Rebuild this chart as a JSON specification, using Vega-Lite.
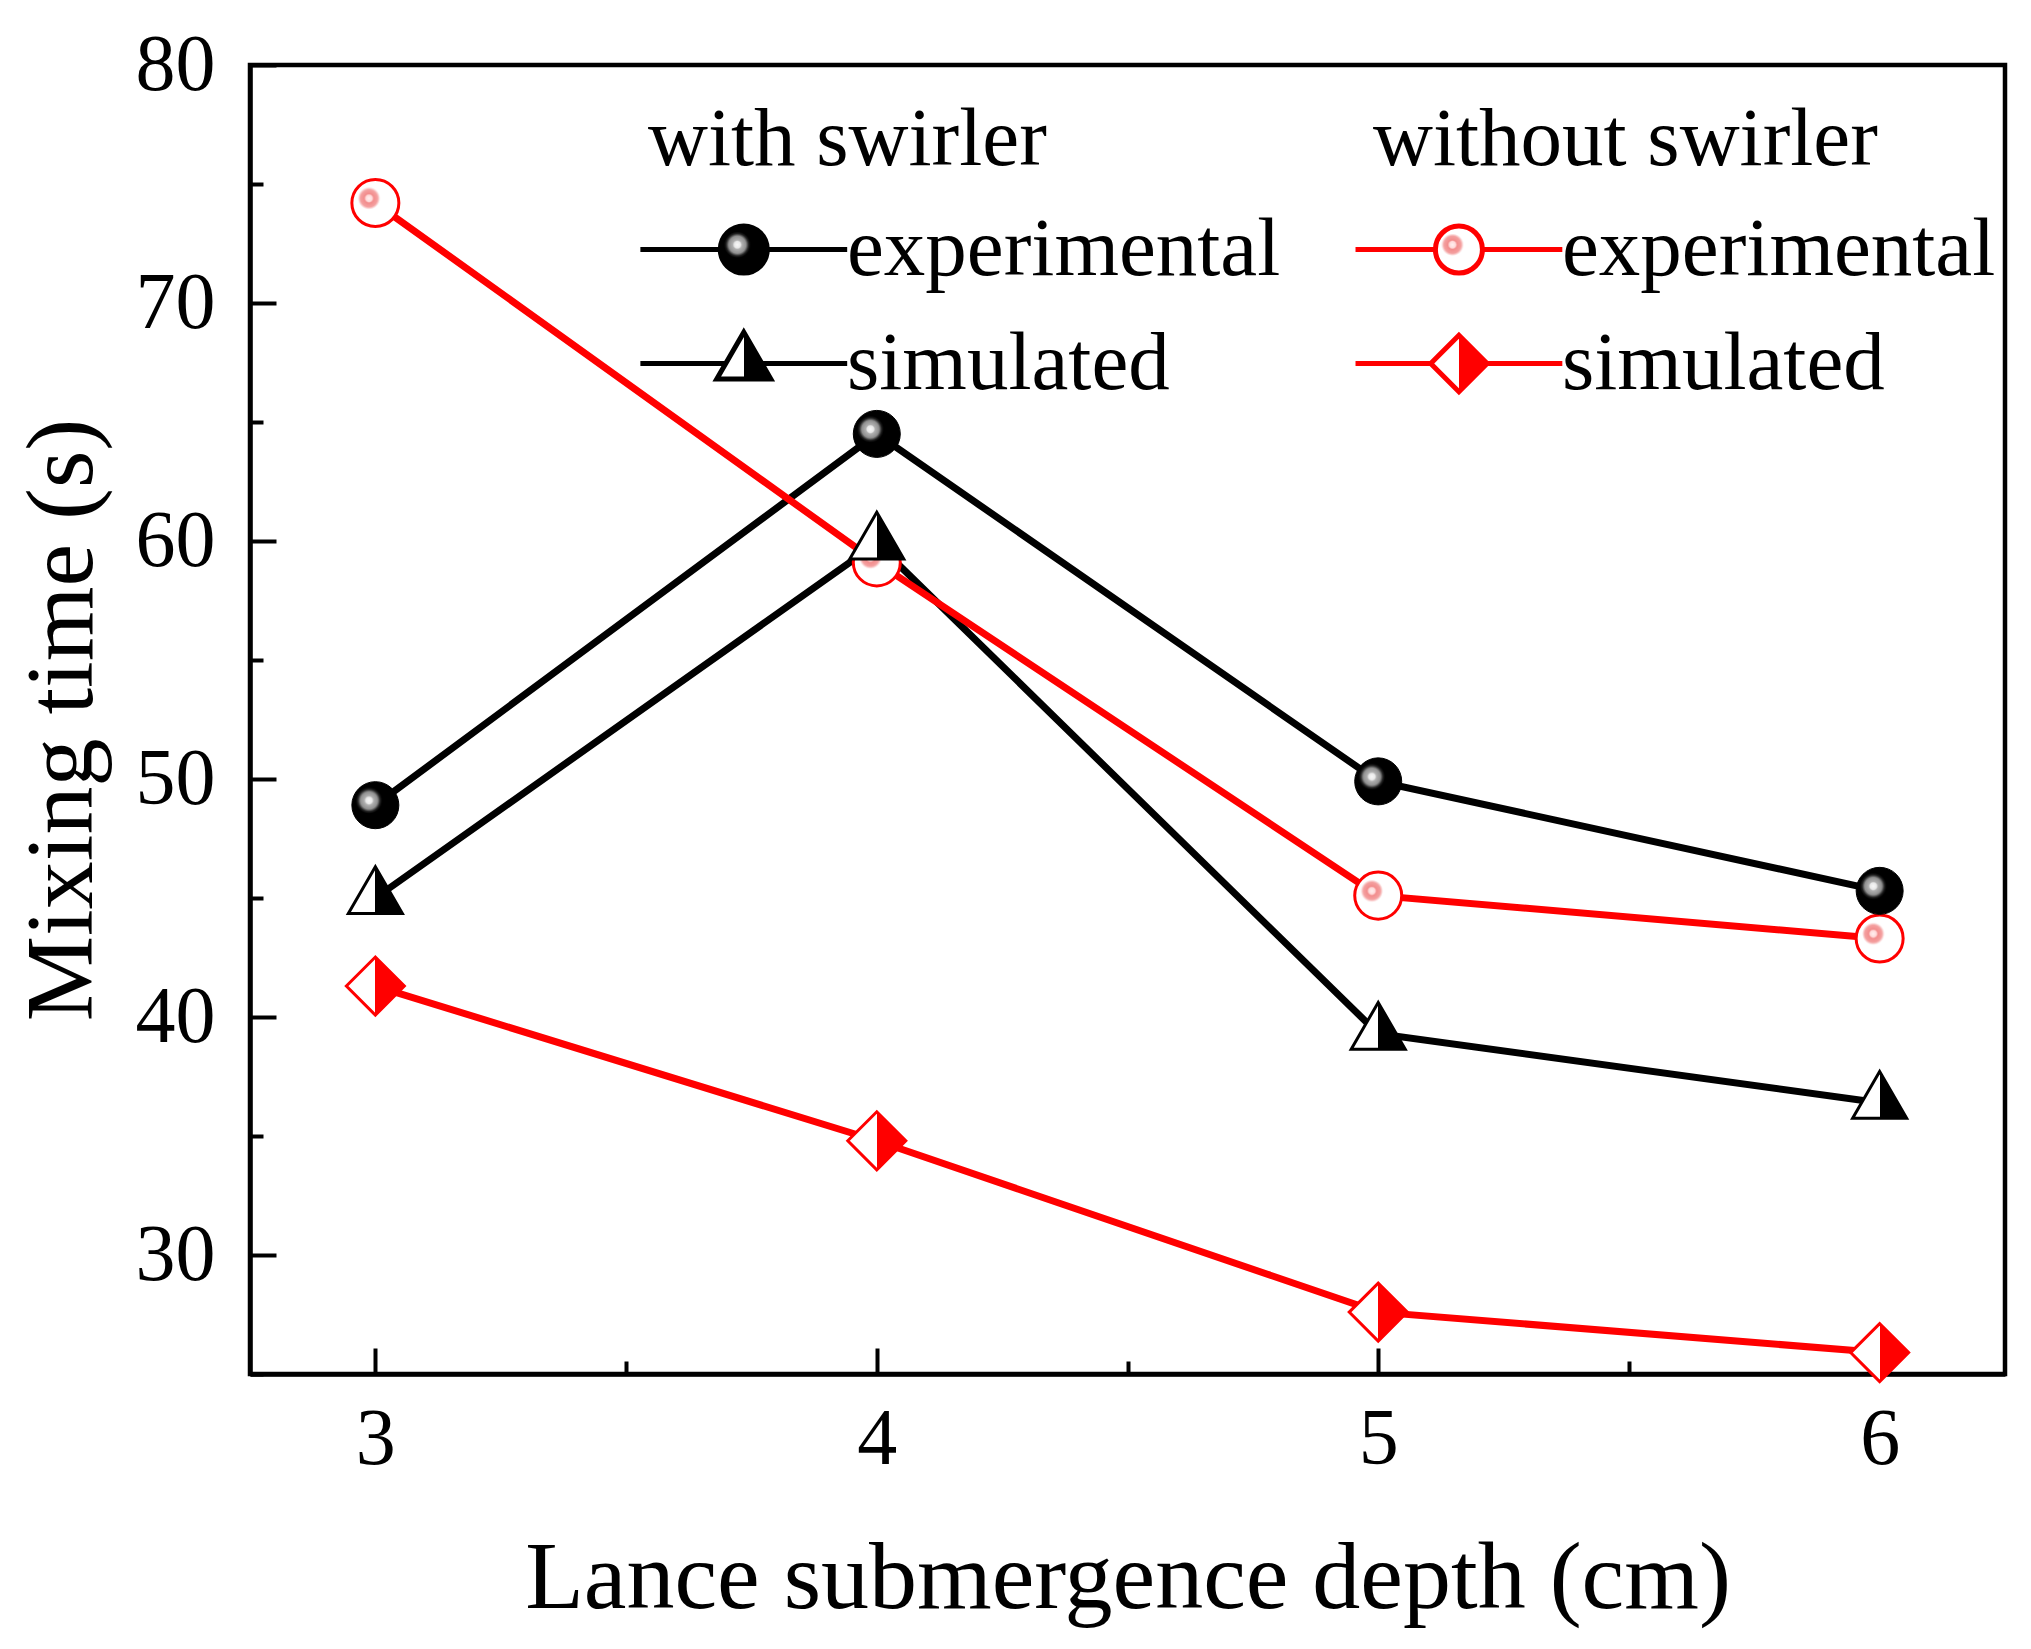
{
  "$schema": "https://vega.github.io/schema/vega-lite/v6.json",
  "width": 1755,
  "height": 1309,
  "autosize": {"type": "none"},
  "padding": {"left": 250, "top": 65, "right": 26, "bottom": 275},
  "background": "white",
  "config": {
    "view": {"stroke": "black", "strokeWidth": 4.5},
    "font": "Liberation Serif",
    "axis": {
      "domainColor": "black", "domainWidth": 4.5,
      "tickColor": "black", "tickWidth": 4,
      "labelFont": "Liberation Serif", "titleFont": "Liberation Serif",
      "labelFontSize": 80, "titleFontSize": 96, "titleFontWeight": "normal",
      "labelColor": "black", "titleColor": "black",
      "grid": false, "labelOverlap": false, "labelFlush": false
    },
    "legend": {
      "orient": "none",
      "titleFont": "Liberation Serif", "labelFont": "Liberation Serif",
      "titleFontSize": 83, "labelFontSize": 83, "titleFontWeight": "normal",
      "titleColor": "black", "labelColor": "black",
      "labelLimit": 0, "titleLimit": 0, "padding": 0,
      "symbolSize": 2209, "symbolStrokeWidth": 5, "symbolOpacity": 1,
      "rowPadding": 30, "titlePadding": 26
    }
  },
  "data": {"values": [
    {"depth": 3, "time": 48.9, "group": "with swirler", "type": "experimental"},
    {"depth": 4, "time": 64.5, "group": "with swirler", "type": "experimental"},
    {"depth": 5, "time": 49.9, "group": "with swirler", "type": "experimental"},
    {"depth": 6, "time": 45.3, "group": "with swirler", "type": "experimental"},
    {"depth": 3, "time": 45.0, "group": "with swirler", "type": "simulated"},
    {"depth": 4, "time": 59.9, "group": "with swirler", "type": "simulated"},
    {"depth": 5, "time": 39.3, "group": "with swirler", "type": "simulated"},
    {"depth": 6, "time": 36.4, "group": "with swirler", "type": "simulated"},
    {"depth": 3, "time": 74.2, "group": "without swirler", "type": "experimental"},
    {"depth": 4, "time": 59.1, "group": "without swirler", "type": "experimental"},
    {"depth": 5, "time": 45.1, "group": "without swirler", "type": "experimental"},
    {"depth": 6, "time": 43.3, "group": "without swirler", "type": "experimental"},
    {"depth": 3, "time": 41.3, "group": "without swirler", "type": "simulated"},
    {"depth": 4, "time": 34.8, "group": "without swirler", "type": "simulated"},
    {"depth": 5, "time": 27.6, "group": "without swirler", "type": "simulated"},
    {"depth": 6, "time": 25.9, "group": "without swirler", "type": "simulated"}
  ]},
  "encoding": {
    "x": {
      "field": "depth", "type": "quantitative",
      "scale": {"domain": [2.75, 6.25], "nice": false, "zero": false},
      "axis": {
        "title": "Lance submergence depth (cm)",
        "values": [3, 3.5, 4, 4.5, 5, 5.5, 6],
        "labelExpr": "datum.value % 1 === 0 ? format(datum.value, 'd') : ''",
        "tickSize": {"condition": {"test": "datum.value % 1 === 0", "value": -26}, "value": -13},
        "labelPadding": 52, "titlePadding": 39
      }
    },
    "y": {
      "field": "time", "type": "quantitative",
      "scale": {"domain": [25, 80], "nice": false, "zero": false},
      "axis": {
        "title": "Mixing time (s)",
        "values": [25, 30, 35, 40, 45, 50, 55, 60, 65, 70, 75, 80],
        "labelExpr": "datum.value % 10 === 0 ? format(datum.value, 'd') : ''",
        "tickSize": {"condition": {"test": "datum.value % 10 === 0", "value": -26}, "value": -13},
        "labelPadding": 61, "titlePadding": 24
      }
    }
  },
  "layer": [
    {
      "mark": {"type": "line", "strokeWidth": 7},
      "encoding": {
        "stroke": {"field": "group", "type": "nominal", "scale": {"domain": ["with swirler", "without swirler"], "range": ["black", "#ff0000"]}, "legend": null},
        "detail": [{"field": "group"}, {"field": "type"}]
      }
    },
    {
      "transform": [{"filter": "datum.group === 'without swirler' && datum.type === 'experimental'"}],
      "mark": {"type": "point", "shape": "circle", "filled": true, "size": 2209, "stroke": "#ff0000", "strokeWidth": 3, "opacity": 1,
        "fill": {"gradient": "radial", "x1": 0.365, "y1": 0.4, "r1": 0, "x2": 0.365, "y2": 0.4, "r2": 0.7,
          "stops": [{"offset": 0, "color": "#fff0f0"}, {"offset": 0.1, "color": "#ffd8d8"}, {"offset": 0.14, "color": "#f28c8c"}, {"offset": 0.26, "color": "#f4a0a0"}, {"offset": 0.34, "color": "#ffffff"}, {"offset": 1, "color": "#ffffff"}]}}
    },
    {
      "transform": [{"filter": "datum.group === 'without swirler' && datum.type === 'simulated'"}],
      "mark": {"type": "point", "shape": "diamond", "filled": true, "size": 3364, "stroke": "#ff0000", "strokeWidth": 3, "opacity": 1,
        "fill": {"gradient": "linear", "x1": 0, "y1": 0, "x2": 1, "y2": 0,
          "stops": [{"offset": 0, "color": "#ffffff"}, {"offset": 0.5, "color": "#ffffff"}, {"offset": 0.5, "color": "#ff0000"}, {"offset": 1, "color": "#ff0000"}]}}
    },
    {
      "transform": [{"filter": "datum.group === 'with swirler' && datum.type === 'experimental'"}],
      "mark": {"type": "point", "shape": "circle", "filled": true, "size": 2209, "stroke": "#000000", "strokeWidth": 1, "opacity": 1,
        "fill": {"gradient": "radial", "x1": 0.365, "y1": 0.4, "r1": 0, "x2": 0.365, "y2": 0.4, "r2": 0.7,
          "stops": [{"offset": 0, "color": "#f8f8f8"}, {"offset": 0.1, "color": "#e8e8e8"}, {"offset": 0.14, "color": "#b0b0b0"}, {"offset": 0.26, "color": "#909090"}, {"offset": 0.34, "color": "#202020"}, {"offset": 0.4, "color": "#000000"}, {"offset": 1, "color": "#000000"}]}}
    },
    {
      "transform": [{"filter": "datum.group === 'with swirler' && datum.type === 'simulated'"}],
      "mark": {"type": "point", "shape": "M0,-1.328L1.15,0.664L-1.15,0.664Z", "filled": true, "size": 2209, "stroke": "#000000", "strokeWidth": 3, "opacity": 1,
        "fill": {"gradient": "linear", "x1": 0, "y1": 0, "x2": 1, "y2": 0,
          "stops": [{"offset": 0, "color": "#ffffff"}, {"offset": 0.5, "color": "#ffffff"}, {"offset": 0.5, "color": "#000000"}, {"offset": 1, "color": "#000000"}]}}
    },
    {
      "transform": [{"filter": "datum.group === 'without swirler'"}],
      "mark": {"type": "point", "filled": true, "size": 2209, "stroke": "#ff0000", "strokeWidth": 5, "opacity": 0},
      "encoding": {
        "fill": {"value": {"expr": "datum.value === 'experimental' ? {gradient: 'radial', x1: 0.469, y1: 0.477, r1: 0, x2: 0.469, y2: 0.477, r2: 0.159, stops: [{offset: 0, color: '#fff0f0'}, {offset: 0.1, color: '#ffd8d8'}, {offset: 0.14, color: '#f28c8c'}, {offset: 0.26, color: '#f4a0a0'}, {offset: 0.34, color: '#ffffff'}, {offset: 1, color: '#ffffff'}]} : {gradient: 'linear', x1: 0, y1: 0, x2: 1, y2: 0, stops: [{offset: 0, color: '#ffffff'}, {offset: 0.5, color: '#ffffff'}, {offset: 0.5, color: '#ff0000'}, {offset: 1, color: '#ff0000'}]}"}},
        "shape": {
          "field": "type", "type": "nominal",
          "scale": {"domain": ["experimental", "simulated"], "range": [
            "M0.89,0 A1,1 0 1,0 2.89,0 A1,1 0 1,0 0.89,0 Z M-2.51,0 L0.89,0 M2.89,0 L6.29,0",
            "M0.69,0 L1.89,-1.2 L3.09,0 L1.89,1.2 Z M-2.51,0 L0.69,0 M3.09,0 L6.29,0"
          ]},
          "legend": {"title": "without swirler", "legendX": 1123, "legendY": 34, "labelOffset": 106}
        }
      }
    },
    {
      "transform": [{"filter": "datum.group === 'with swirler'"}],
      "mark": {"type": "point", "filled": true, "size": 2209, "stroke": "#000000", "strokeWidth": 5, "opacity": 0},
      "encoding": {
        "fill": {"value": {"expr": "datum.value === 'experimental' ? {gradient: 'radial', x1: 0.469, y1: 0.477, r1: 0, x2: 0.469, y2: 0.477, r2: 0.159, stops: [{offset: 0, color: '#f8f8f8'}, {offset: 0.1, color: '#e8e8e8'}, {offset: 0.14, color: '#b0b0b0'}, {offset: 0.26, color: '#909090'}, {offset: 0.34, color: '#202020'}, {offset: 0.4, color: '#000000'}, {offset: 1, color: '#000000'}]} : {gradient: 'linear', x1: 0, y1: 0, x2: 1, y2: 0, stops: [{offset: 0, color: '#ffffff'}, {offset: 0.5, color: '#ffffff'}, {offset: 0.5, color: '#000000'}, {offset: 1, color: '#000000'}]}"}},
        "shape": {
          "field": "type", "type": "nominal",
          "scale": {"domain": ["experimental", "simulated"], "range": [
            "M1.31,0 A1,1 0 1,0 3.31,0 A1,1 0 1,0 1.31,0 Z M-2.09,0 L1.31,0 M3.31,0 L6.71,0",
            "M2.31,-1.328 L3.46,0.664 L1.16,0.664 Z M-2.09,0 L1.543,0 M3.077,0 L6.71,0"
          ]},
          "legend": {"title": "with swirler", "legendX": 398, "legendY": 34, "labelOffset": 116}
        }
      }
    }
  ],
  "resolve": {"scale": {"shape": "independent"}}
}
